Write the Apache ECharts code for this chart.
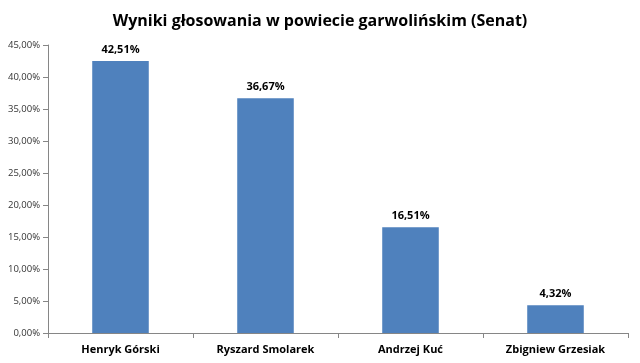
<!DOCTYPE html>
<html><head><meta charset="utf-8">
<script src="https://cdn.jsdelivr.net/npm/echarts@6/dist/echarts.min.js"></script>
<style>html,body{margin:0;padding:0;background:#fff}#c{width:640px;height:363px}</style>
</head><body><div id="c"></div>
<script>
var categories = ["Henryk Górski", "Ryszard Smolarek", "Andrzej Kuć", "Zbigniew Grzesiak"];
var values = [42.51, 36.67, 16.51, 4.32];
var yTicks = [0, 5, 10, 15, 20, 25, 30, 35, 40, 45];
var titleText = "Wyniki głosowania w powiecie garwolińskim (Senat)";

function pct(v) { return v.toFixed(2).replace('.', ',') + '%'; }

var chart = echarts.init(document.getElementById('c'), null, {renderer: 'canvas'});
chart.setOption({
  animation: false,
  title: {
    text: titleText, left: 'center', top: 8,
    textStyle: {fontFamily: 'Open Sans', fontWeight: 'bold', fontSize: 16, color: '#000'}
  },
  grid: {left: 48, right: 12, top: 45, bottom: 30, containLabel: false},
  xAxis: {
    type: 'category', data: categories,
    axisLine: {lineStyle: {color: '#868686'}},
    axisTick: {show: true, length: 5, alignWithLabel: false, lineStyle: {color: '#868686'}},
    axisLabel: {color: '#000', fontFamily: 'Open Sans', fontWeight: 'bold', fontSize: 11, margin: 11}
  },
  yAxis: {
    type: 'value', min: yTicks[0], max: yTicks[yTicks.length - 1], interval: 5,
    axisLine: {show: true, lineStyle: {color: '#868686'}},
    axisTick: {show: true, length: 5, lineStyle: {color: '#868686'}},
    splitLine: {show: false},
    axisLabel: {color: '#333', fontFamily: 'Open Sans', fontSize: 9.5, margin: 8, formatter: function (v) { return pct(v); }}
  },
  series: [{
    type: 'bar', data: values, barWidth: '39%',
    itemStyle: {color: '#4F81BD'},
    label: {show: true, position: 'top', distance: 6, color: '#000', fontFamily: 'Open Sans', fontWeight: 'bold', fontSize: 11,
      formatter: function (p) { return pct(p.value); }}
  }]
});
</script></body></html>
